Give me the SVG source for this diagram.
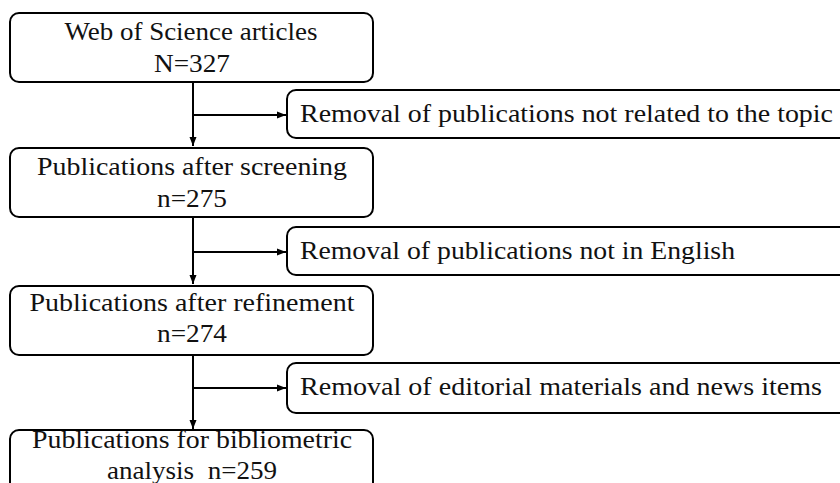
<svg xmlns="http://www.w3.org/2000/svg" width="840" height="483" viewBox="0 0 840 483">
<defs>
<marker id="ah" markerWidth="10" markerHeight="8" refX="9" refY="4" orient="auto" markerUnits="userSpaceOnUse">
<path d="M0,0.5 L9,4 L0,7.5 Z" fill="#000"/>
</marker>
<style>
.box{fill:#fff;stroke:#000;stroke-width:2}
.t{font-family:"Liberation Serif","Times New Roman",serif;font-size:25px;fill:#111}
.m{text-anchor:middle}
.c{stroke:#000;stroke-width:2;fill:none}
</style>
</defs>
<rect width="840" height="483" fill="#fff"/>
<g id="connectors">
<line class="c" x1="193" y1="82" x2="193" y2="146" marker-end="url(#ah)"/>
<line class="c" x1="193" y1="115" x2="286" y2="115" marker-end="url(#ah)"/>
<line class="c" x1="193" y1="217" x2="193" y2="284" marker-end="url(#ah)"/>
<line class="c" x1="193" y1="252" x2="286" y2="252" marker-end="url(#ah)"/>
<line class="c" x1="193" y1="355" x2="193" y2="429" marker-end="url(#ah)"/>
<line class="c" x1="193" y1="388" x2="286" y2="388" marker-end="url(#ah)"/>
</g>
<g id="n1">
<rect class="box" x="10" y="13" width="363" height="69" rx="9"/>
<text class="t m" x="191" y="40" textLength="253" lengthAdjust="spacingAndGlyphs">Web of Science articles</text>
<text class="t m" x="192" y="72" textLength="76" lengthAdjust="spacingAndGlyphs">N=327</text>
</g>
<g id="s1">
<rect class="box" x="287" y="90" width="570" height="48" rx="9"/>
<text class="t" x="300" y="122" textLength="533" lengthAdjust="spacingAndGlyphs">Removal of publications not related to the topic</text>
</g>
<g id="n2">
<rect class="box" x="10" y="148" width="363" height="69" rx="9"/>
<text class="t m" x="192" y="175" textLength="310" lengthAdjust="spacingAndGlyphs">Publications after screening</text>
<text class="t m" x="192" y="207" textLength="70" lengthAdjust="spacingAndGlyphs">n=275</text>
</g>
<g id="s2">
<rect class="box" x="287" y="227" width="570" height="48" rx="9"/>
<text class="t" x="300" y="259" textLength="435" lengthAdjust="spacingAndGlyphs">Removal of publications not in English</text>
</g>
<g id="n3">
<rect class="box" x="10" y="286" width="363" height="69" rx="9"/>
<text class="t m" x="192" y="311" textLength="325" lengthAdjust="spacingAndGlyphs">Publications after refinement</text>
<text class="t m" x="192" y="342" textLength="70" lengthAdjust="spacingAndGlyphs">n=274</text>
</g>
<g id="s3">
<rect class="box" x="287" y="363" width="570" height="50" rx="9"/>
<text class="t" x="300" y="395" textLength="522" lengthAdjust="spacingAndGlyphs">Removal of editorial materials and news items</text>
</g>
<g id="n4">
<rect class="box" x="10" y="430" width="363" height="80" rx="9"/>
<text class="t m" x="192" y="448" textLength="320" lengthAdjust="spacingAndGlyphs">Publications for bibliometric</text>
<text class="t m" x="192" y="479" textLength="170" lengthAdjust="spacingAndGlyphs" xml:space="preserve">analysis  n=259</text>
</g>
</svg>
